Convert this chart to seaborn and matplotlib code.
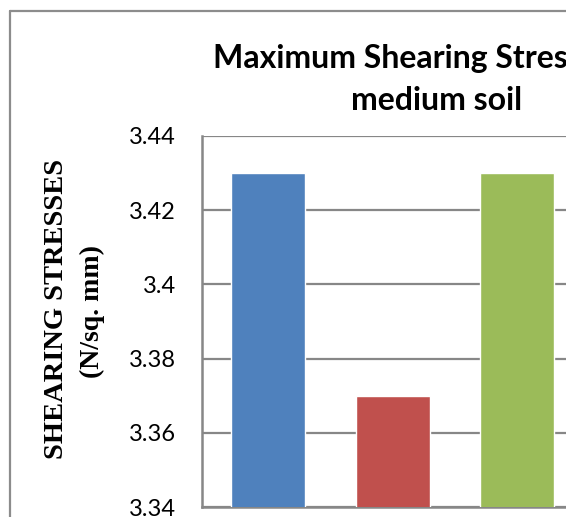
import matplotlib
matplotlib.use("Agg")
import matplotlib.pyplot as plt
from matplotlib.patches import Rectangle
from matplotlib.lines import Line2D
import seaborn as sns
import pandas as pd

# Chart data
categories = ["Case 1", "Case 2", "Case 3"]
stresses = [3.43, 3.37, 3.43]
bar_colors = ["#4F81BD", "#C0504D", "#9BBB59"]
y_ticks = [3.34, 3.36, 3.38, 3.40, 3.42, 3.44]
y_tick_labels = ["3.34", "3.36", "3.38", "3.4", "3.42", "3.44"]
title_line1 = "Maximum Shearing Stresses in"
title_line2 = "medium soil"
y_title = "SHEARING STRESSES"
y_unit = "(N/sq. mm)"

df = pd.DataFrame({"category": categories, "stress": stresses})

sns.set_theme(style="white")
plt.rcParams["font.family"] = ["Lato", "DejaVu Sans"]

W, H = 573, 517
fig = plt.figure(figsize=(W / 100, H / 100), dpi=100)
fig.patch.set_facecolor("white")

def fx(px):
    return px / W

def fy(py):
    return 1 - py / H

ax = fig.add_axes([fx(202), fy(507), fx(566) - fx(202), fy(136) - fy(507)])

sns.barplot(data=df, x="category", y="stress", hue="category",
            palette=bar_colors, width=0.594, legend=False, ax=ax,
            saturation=1, zorder=3)

ax.set_ylim(3.34, 3.44)
ax.set_xlim(-0.53, 2.39)
ax.set_yticks(y_ticks)
ax.set_yticklabels(y_tick_labels, fontsize=17, color="black")
ax.tick_params(axis="y", length=0, pad=19)
ax.tick_params(axis="x", length=0, labelbottom=False)
ax.set_xlabel("")
ax.set_ylabel("")
ax.yaxis.grid(True, color="#878787", linewidth=1.6, zorder=0)
ax.set_axisbelow(True)
for side in ["top", "right"]:
    ax.spines[side].set_visible(False)
for side in ["left", "bottom"]:
    ax.spines[side].set_color("#878787")
    ax.spines[side].set_linewidth(1.8)

# Chart title (two lines)
fig.text(fx(213), fy(68), title_line1, ha="left", va="baseline",
         fontsize=23, fontweight="bold", color="black")
fig.text(fx(437), fy(110), title_line2, ha="center", va="baseline",
         fontsize=23, fontweight="bold", color="black")

# Vertical axis title in two lines
fig.text(fx(57), fy(309), y_title, rotation=90, ha="center", va="center",
         fontsize=20.5, fontweight="bold", family=["Liberation Serif"], color="black")
fig.text(fx(92), fy(312), y_unit, rotation=90, ha="center", va="center",
         fontsize=20, fontweight="bold", family=["Liberation Serif"], color="black")

# Outer chart frame
fig.add_artist(Line2D([fx(10), fx(10)], [fy(11), 0], color="#8c8c8c", linewidth=1.6))
fig.add_artist(Line2D([fx(10), fx(566)], [fy(11), fy(11)], color="#8c8c8c", linewidth=1.6))

# Blank strip along the right edge
fig.add_artist(Rectangle((fx(566), 0), 1 - fx(566), 1, transform=fig.transFigure,
                         facecolor="white", edgecolor="none", zorder=100))

fig.savefig("out.png", dpi=100)
